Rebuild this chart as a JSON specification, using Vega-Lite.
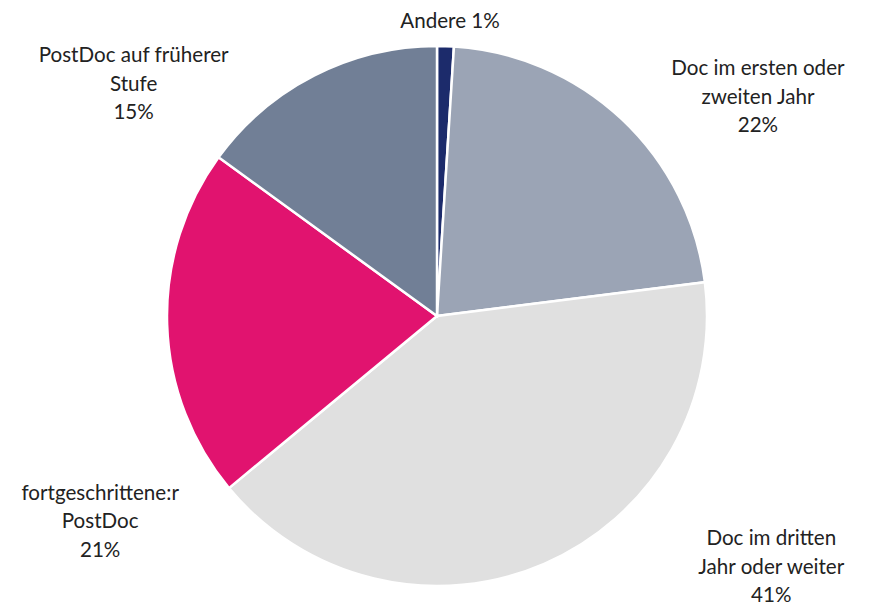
{
  "$schema": "https://vega.github.io/schema/vega-lite/v6.json",
  "width": 874,
  "height": 580,
  "autosize": {"type": "none"},
  "padding": {"left": 0, "top": 26, "right": 3, "bottom": 0},
  "background": "white",
  "config": {"view": {"stroke": null}},
  "data": {
    "values": [
      {"kategorie": "Andere", "anteil": 1, "rang": 1, "label": "Andere 1%"},
      {"kategorie": "Doc im ersten oder zweiten Jahr", "anteil": 22, "rang": 2, "label": "Doc im ersten oder|zweiten Jahr|22%"},
      {"kategorie": "Doc im dritten Jahr oder weiter", "anteil": 41, "rang": 3, "label": "Doc im dritten|Jahr oder weiter|41%"},
      {"kategorie": "fortgeschrittene:r PostDoc", "anteil": 21, "rang": 4, "label": "fortgeschrittene:r|PostDoc|21%"},
      {"kategorie": "PostDoc auf früherer Stufe", "anteil": 15, "rang": 5, "label": "PostDoc auf früherer|Stufe|15%"}
    ]
  },
  "encoding": {
    "theta": {"field": "anteil", "type": "quantitative", "stack": true},
    "order": {"field": "rang", "type": "quantitative"}
  },
  "layer": [
    {
      "mark": {"type": "arc", "radius": 270, "stroke": "white", "strokeWidth": 2.5},
      "encoding": {
        "color": {
          "field": "kategorie",
          "type": "nominal",
          "legend": null,
          "scale": {
            "domain": ["Andere", "Doc im ersten oder zweiten Jahr", "Doc im dritten Jahr oder weiter", "fortgeschrittene:r PostDoc", "PostDoc auf früherer Stufe"],
            "range": ["#1c2b6b", "#9ba4b5", "#e0e0e0", "#e1136f", "#717f96"]
          }
        }
      }
    },
    {
      "mark": {"type": "text", "radius": 288, "dx": 4, "dy": 0, "align": "center", "baseline": "alphabetic", "font": "Lato", "fontSize": 20.6, "lineHeight": 28.5, "lineBreak": "|", "color": "#222222"},
      "encoding": {"text": {"condition": {"test": "datum.kategorie === 'Andere'", "field": "label"}, "value": ""}}
    },
    {
      "mark": {"type": "text", "radius": 330, "dx": 95, "dy": 0, "align": "center", "baseline": "alphabetic", "font": "Lato", "fontSize": 20.6, "lineHeight": 28.5, "lineBreak": "|", "color": "#222222"},
      "encoding": {"text": {"condition": {"test": "datum.kategorie === 'Doc im ersten oder zweiten Jahr'", "field": "label"}, "value": ""}}
    },
    {
      "mark": {"type": "text", "radius": 250, "dx": 235, "dy": 0, "align": "center", "baseline": "alphabetic", "font": "Lato", "fontSize": 20.6, "lineHeight": 28.5, "lineBreak": "|", "color": "#222222"},
      "encoding": {"text": {"condition": {"test": "datum.kategorie === 'Doc im dritten Jahr oder weiter'", "field": "label"}, "value": ""}}
    },
    {
      "mark": {"type": "text", "radius": 337, "dx": 0, "dy": 173, "align": "center", "baseline": "alphabetic", "font": "Lato", "fontSize": 20.6, "lineHeight": 28.5, "lineBreak": "|", "color": "#222222"},
      "encoding": {"text": {"condition": {"test": "datum.kategorie === 'fortgeschrittene:r PostDoc'", "field": "label"}, "value": ""}}
    },
    {
      "mark": {"type": "text", "radius": 285, "dx": -174, "dy": 0, "align": "center", "baseline": "alphabetic", "font": "Lato", "fontSize": 20.6, "lineHeight": 28.5, "lineBreak": "|", "color": "#222222"},
      "encoding": {"text": {"condition": {"test": "datum.kategorie === 'PostDoc auf früherer Stufe'", "field": "label"}, "value": ""}}
    }
  ]
}
